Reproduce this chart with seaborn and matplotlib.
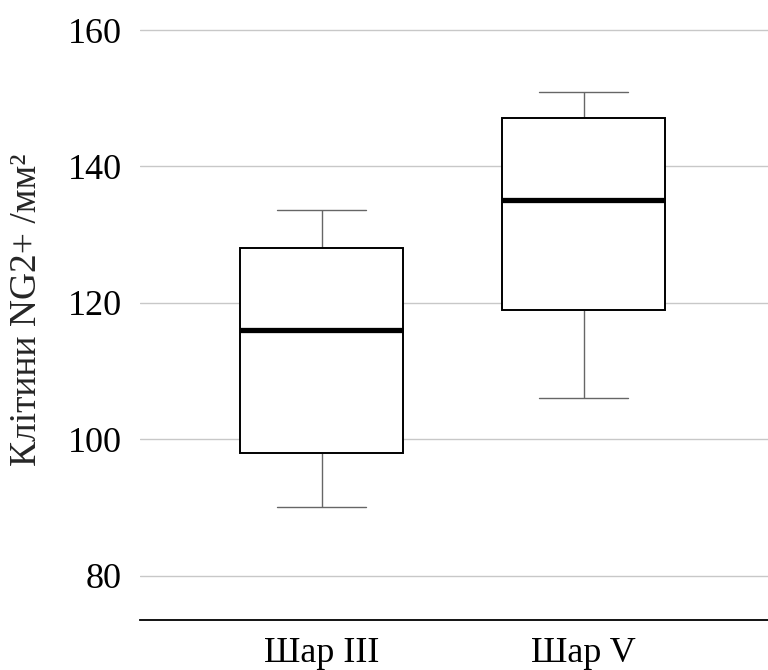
import pandas as pd
import matplotlib
matplotlib.use("Agg")
import matplotlib.pyplot as plt
import seaborn as sns

# five-number summaries: min, q1, median, q3, max
layers = ["Шар III", "Шар V"]
layer3 = [90.1, 98.0, 116.0, 128.1, 133.6]
layer5 = [106.1, 119.0, 135.1, 147.1, 150.9]

data = pd.DataFrame({
    'Layer': [layers[0]] * len(layer3) + [layers[1]] * len(layer5),
    'Cells': layer3 + layer5,
})

sns.set_style("white")
plt.rcParams['font.family'] = ['Liberation Serif', 'DejaVu Serif']

fig = plt.figure(figsize=(7.68, 6.70), dpi=100)
ax = fig.add_axes([0.1823, 0.0746, 0.8177, 0.9254])

sns.boxplot(x='Layer', y='Cells', data=data, ax=ax, width=0.622, whis=3,
            color='white', linecolor='black', showfliers=False,
            boxprops=dict(facecolor='white', edgecolor='black', linewidth=1.4, zorder=3),
            medianprops=dict(color='black', linewidth=3.8, zorder=4),
            whiskerprops=dict(color='#666666', linewidth=1.0, zorder=2),
            capprops=dict(color='#666666', linewidth=1.0, zorder=2),
            capwidths=0.34)

ax.set_ylim(73.5, 164.4)
ax.set_xlim(-0.693, 1.704)
ax.set_yticks([80, 100, 120, 140, 160])
ax.yaxis.grid(True, color='#c8c8c8', linewidth=1.0, zorder=0)
ax.set_axisbelow(True)
for s in ['top', 'right', 'left']:
    ax.spines[s].set_visible(False)
ax.spines['bottom'].set_color('black')
ax.spines['bottom'].set_linewidth(1.3)
ax.tick_params(axis='both', length=0, labelsize=26, colors='black')
ax.tick_params(axis='y', pad=13)
ax.tick_params(axis='x', pad=12)
ax.set_xlabel('')
ax.set_ylabel('Клітини NG2+ /мм²', fontsize=27, labelpad=17)

fig.savefig('out.png', dpi=100)
